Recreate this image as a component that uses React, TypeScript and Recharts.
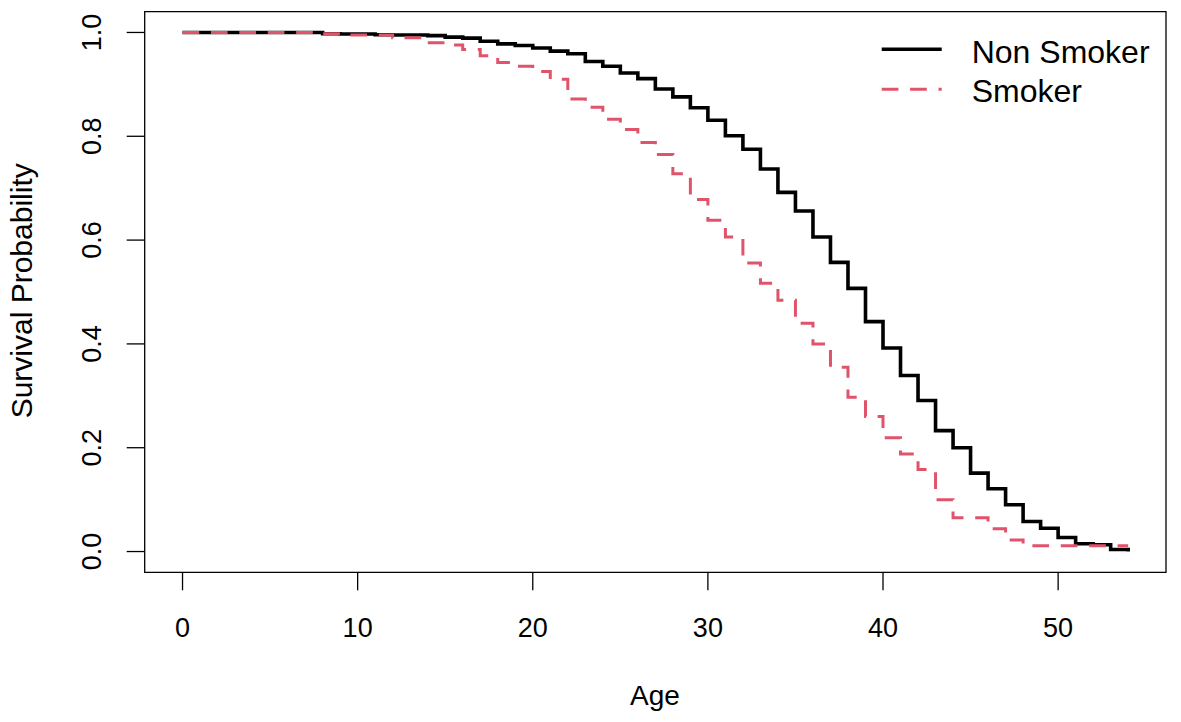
import { LineChart, Line, XAxis, YAxis, ReferenceArea, Legend } from "recharts";

const AGES = [
  0, 1, 2, 3, 4, 5, 6, 7, 8, 9, 10, 11, 12, 13, 14, 15, 16, 17, 18, 19, 20, 21, 22, 23, 24, 25, 26, 27,
  28, 29, 30, 31, 32, 33, 34, 35, 36, 37, 38, 39, 40, 41, 42, 43, 44, 45, 46, 47, 48, 49, 50, 51, 52, 53, 54,
];

const NON_SMOKER = [
  1, 1, 1, 1, 1, 1, 1, 1, 0.9975, 0.997, 0.997, 0.9956, 0.995, 0.995, 0.994, 0.991, 0.989, 0.983, 0.978,
  0.975, 0.97, 0.964, 0.959, 0.944, 0.935, 0.922, 0.911, 0.891, 0.876, 0.855, 0.831, 0.801, 0.775, 0.737,
  0.692, 0.656, 0.606, 0.557, 0.507, 0.443, 0.392, 0.339, 0.291, 0.233, 0.2, 0.151, 0.121, 0.09, 0.058,
  0.045, 0.027, 0.015, 0.013, 0.004, 0,
];

const SMOKER = [
  1, 1, 1, 1, 1, 1, 1, 1, 0.9975, 0.995, 0.995, 0.995, 0.99, 0.99, 0.98, 0.976, 0.967, 0.955, 0.942,
  0.935, 0.925, 0.91, 0.872, 0.856, 0.833, 0.813, 0.788, 0.765, 0.728, 0.678, 0.638, 0.606, 0.556, 0.517,
  0.484, 0.44, 0.4, 0.355, 0.297, 0.26, 0.219, 0.188, 0.158, 0.1, 0.065, 0.065, 0.044, 0.022, 0.011,
  0.011, 0.011, 0.011, 0.011, 0.011, 0.011,
];

const X_TICKS = [0, 10, 20, 30, 40, 50];
const Y_TICKS = [0, 0.2, 0.4, 0.6, 0.8, 1.0];

const FONT = '"Liberation Sans", Arial, sans-serif';
const RED = "#DF536B";

const data = AGES.map((age, i) => ({
  age,
  nonSmoker: NON_SMOKER[i],
  smoker: SMOKER[i],
}));

// eslint-disable-next-line @typescript-eslint/no-explicit-any
function XTick({ x, y, payload }: any) {
  return (
    <text x={x} y={y + 46.4} textAnchor="middle" fontSize={27} fontFamily={FONT} fill="#000">
      {payload.value}
    </text>
  );
}

// eslint-disable-next-line @typescript-eslint/no-explicit-any
function YTick({ x, y, payload }: any) {
  const tx = x - 26;
  return (
    <text
      x={tx}
      y={y}
      transform={`rotate(-90, ${tx}, ${y})`}
      textAnchor="middle"
      fontSize={27}
      fontFamily={FONT}
      fill="#000"
    >
      {Number(payload.value).toFixed(1)}
    </text>
  );
}

function YLabel() {
  return (
    <text
      x={32}
      y={290.8}
      transform="rotate(-90, 32, 290.8)"
      textAnchor="middle"
      fontSize={30}
      fontFamily={FONT}
      fill="#000"
    >
      Survival Probability
    </text>
  );
}

function XLabel() {
  return (
    <text x={655} y={705} textAnchor="middle" fontSize={28} fontFamily={FONT} fill="#000">
      Age
    </text>
  );
}

function LegendBox() {
  return (
    <svg width={300} height={90} style={{ display: "block" }}>
      <line x1={11.7} x2={71.7} y1={24.3} y2={24.3} stroke="#000" strokeWidth={3.6} />
      <line
        x1={11.7}
        x2={71.7}
        y1={64.3}
        y2={64.3}
        stroke={RED}
        strokeWidth={3}
        strokeDasharray="16.7 11.7"
      />
      <text x={101.7} y={37.7} fontSize={32} fontFamily={FONT} fill="#000">
        Non Smoker
      </text>
      <text x={101.7} y={76.7} fontSize={32} fontFamily={FONT} fill="#000">
        Smoker
      </text>
    </svg>
  );
}

export default function App() {
  return (
    <div style={{ marginLeft: -8, marginTop: -8, width: 1181, height: 722 }}>
      <LineChart
        width={1181}
        height={722}
        data={data}
        margin={{ top: 11.7, right: 15, bottom: 89.7, left: 44.7 }}
      >
        <XAxis
          dataKey="age"
          type="number"
          domain={[-2.16, 56.16]}
          ticks={X_TICKS}
          allowDataOverflow
          height={60}
          tickSize={18}
          tickMargin={0}
          axisLine={false}
          tickLine={{ stroke: "#000", strokeWidth: 1.3 }}
          tick={<XTick />}
          label={<XLabel />}
        />
        <YAxis
          type="number"
          domain={[-0.04, 1.04]}
          ticks={Y_TICKS}
          allowDataOverflow
          width={100}
          tickSize={18}
          tickMargin={0}
          axisLine={false}
          tickLine={{ stroke: "#000", strokeWidth: 1.3 }}
          tick={<YTick />}
          label={<YLabel />}
        />
        <ReferenceArea
          x1={-2.16}
          x2={56.16}
          y1={-0.04}
          y2={1.04}
          fill="none"
          fillOpacity={0}
          stroke="#000"
          strokeWidth={1.3}
          ifOverflow="visible"
        />
        <Legend
          layout="vertical"
          align="center"
          verticalAlign="middle"
          content={() => <LegendBox />}
          wrapperStyle={{ position: "absolute", left: 870, top: 25, width: 300, height: 90 }}
        />
        <Line
          type="stepAfter"
          dataKey="nonSmoker"
          stroke="#000"
          strokeWidth={3.6}
          dot={false}
          activeDot={false}
          isAnimationActive={false}
        />
        <Line
          type="stepAfter"
          dataKey="smoker"
          stroke={RED}
          strokeWidth={3}
          strokeDasharray="16.7 11.7"
          dot={false}
          activeDot={false}
          isAnimationActive={false}
        />
      </LineChart>
    </div>
  );
}
